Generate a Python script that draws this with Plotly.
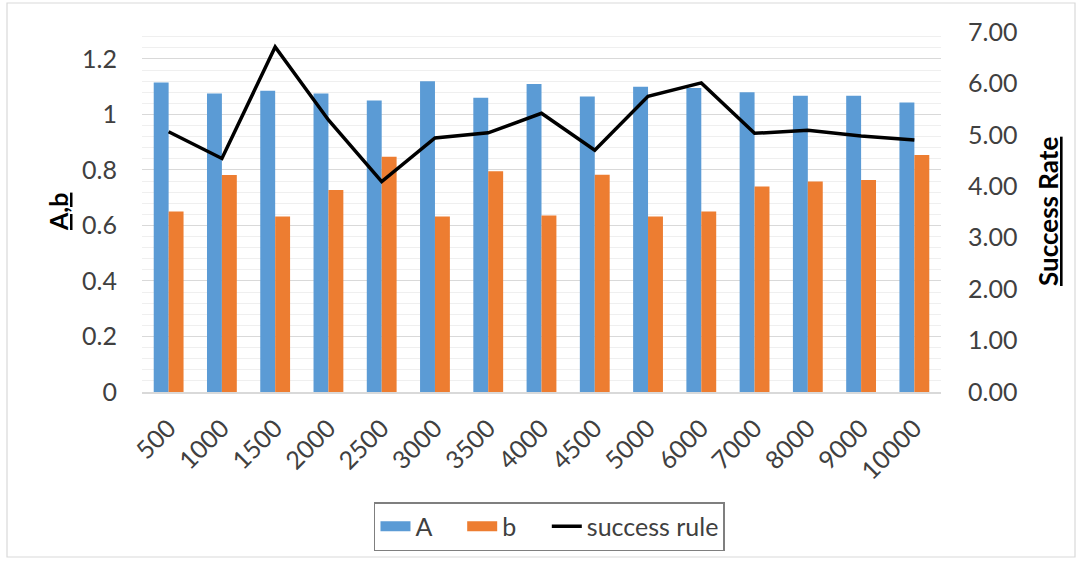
import plotly.graph_objects as go

categories = ["500", "1000", "1500", "2000", "2500", "3000", "3500", "4000",
              "4500", "5000", "6000", "7000", "8000", "9000", "10000"]
A_vals = [1.115, 1.075, 1.085, 1.075, 1.05, 1.12, 1.06, 1.11, 1.065, 1.10,
          1.095, 1.08, 1.067, 1.067, 1.043]
b_vals = [0.65, 0.782, 0.632, 0.728, 0.848, 0.632, 0.795, 0.636, 0.783, 0.632,
          0.65, 0.74, 0.758, 0.764, 0.854]
success_rule = [5.06, 4.54, 6.71, 5.29, 4.09, 4.94, 5.04, 5.42, 4.70, 5.75,
                6.01, 5.03, 5.09, 4.98, 4.90]

FONT = "Lato"
TXT = "#404040"
BLUE = "#5B9BD5"
ORANGE = "#ED7D31"
PAD = "\u00a0" * 4

fig = go.Figure()
fig.add_trace(go.Bar(x=categories, y=A_vals, name="A", marker_color=BLUE,
                     marker_line_width=0, showlegend=False, legendgroup="A"))
fig.add_trace(go.Bar(x=categories, y=b_vals, name="b", marker_color=ORANGE,
                     marker_line_width=0, showlegend=False, legendgroup="b"))
fig.add_trace(go.Scatter(x=categories, y=success_rule, name="success rule",
                         mode="lines", line=dict(color="black", width=3.5),
                         yaxis="y2", showlegend=False, legendgroup="s"))
# legend entries (wide swatches like the original)
fig.add_trace(go.Scatter(x=[None], y=[None], name="A" + PAD, mode="lines",
                         line=dict(color=BLUE, width=14), legendgroup="A"))
fig.add_trace(go.Scatter(x=[None], y=[None], name="b" + PAD, mode="lines",
                         line=dict(color=ORANGE, width=14), legendgroup="b"))
fig.add_trace(go.Scatter(x=[None], y=[None], name="success rule", mode="lines",
                         line=dict(color="black", width=3.5), legendgroup="s"))

fig.update_layout(
    width=1084, height=563,
    margin=dict(l=142, r=143, t=32, b=171),
    paper_bgcolor="white", plot_bgcolor="white",
    font=dict(family=FONT, color=TXT, size=25),
    barmode="group", bargap=0.44, bargroupgap=0,
    showlegend=True,
    legend=dict(orientation="h", x=0.51, xanchor="center", y=-0.3056, yanchor="top",
                bordercolor="#7f7f7f", borderwidth=1.5,
                font=dict(size=25, color=TXT, family=FONT),
                traceorder="normal"),
    xaxis=dict(type="category", tickangle=-45, showgrid=False,
               showline=True, linecolor="#d9d9d9", linewidth=1.5,
               ticks="", ticklabelstandoff=10,
               tickfont=dict(size=25, color=TXT)),
    yaxis=dict(range=[0, 1.297], dtick=0.2, tick0=0, showgrid=True,
               gridcolor="#d9d9d9", gridwidth=1.2, zeroline=False,
               tickformat="~g", ticks="", ticklabelstandoff=24,
               tickfont=dict(size=25, color=TXT),
               minor=dict(dtick=0.04, tick0=0, showgrid=True,
                          gridcolor="#efefef", gridwidth=1)),
    yaxis2=dict(range=[0, 7], dtick=1, overlaying="y", side="right",
                showgrid=False, zeroline=False, tickformat=".2f",
                ticks="", ticklabelstandoff=26,
                tickfont=dict(size=25, color=TXT)),
    annotations=[
        dict(text="<b><u>A,b</u></b>", xref="paper", yref="paper",
             x=(58 - 142) / 799, y=0.5, textangle=-90, showarrow=False,
             xanchor="center", yanchor="middle",
             font=dict(size=25, color="black", family=FONT)),
        dict(text="<b><u>Success Rate</u></b>", xref="paper", yref="paper",
             x=(1048 - 142) / 799, y=0.5, textangle=-90, showarrow=False,
             xanchor="center", yanchor="middle",
             font=dict(size=26, color="black", family=FONT)),
    ],
    shapes=[
        dict(type="rect", xref="paper", yref="paper",
             x0=(7 - 142) / 799, x1=(1075 - 142) / 799,
             y0=(392 - 3) / 360, y1=(392 - 557) / 360,
             line=dict(color="#d9d9d9", width=1.2), layer="below"),
    ],
)

fig.write_html("out.html", config={"displayModeBar": False},
               post_script="document.body.style.margin='0';")
